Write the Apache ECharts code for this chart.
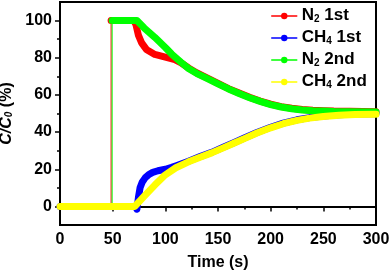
<!DOCTYPE html>
<html><head><meta charset="utf-8">
<script src="https://cdn.jsdelivr.net/npm/echarts@6/dist/echarts.min.js"></script>
<style>html,body{margin:0;padding:0;background:#fff}#c{width:392px;height:275px}</style>
</head><body><div id="c"></div>
<script>
// x tick labels and y tick labels
const xTickLabels = [0, 50, 100, 150, 200, 250, 300];
const yTickLabels = [0, 20, 40, 60, 80, 100];
const yMinorTicks = [10, 30, 50, 70, 90];

// N2 1st (red)
const n2FirstTime  = [48.5, 70, 72, 74.5, 77.5, 82, 90, 100, 109, 115, 122, 130, 140, 150, 160, 170, 180, 190, 200, 210, 220, 230, 240, 250, 260, 275, 300];
const n2FirstValue = [100, 100, 98, 92, 88, 84.5, 81.8, 80.3, 79, 77.3, 74.5, 71.8, 69, 66.2, 63.4, 61, 58.7, 56.7, 55, 53.7, 52.8, 52.1, 51.7, 51.5, 51.3, 51.2, 51];
// CH4 1st (blue)
const ch4FirstTime  = [0, 72, 73, 74.5, 76, 78, 81, 84, 88, 93, 100, 106, 111, 122, 133, 144, 155, 165, 175, 187, 200, 212, 225, 237, 250, 265, 280, 300];
const ch4FirstValue = [0, 0, -1.5, 5, 10, 13, 15.5, 17, 18.3, 19.2, 20, 21, 22, 24.3, 26.8, 29.1, 31.8, 34.3, 36.8, 39.8, 42.6, 44.8, 46.6, 47.8, 48.7, 49.3, 49.7, 49.9];
// N2 2nd (green)
const n2SecondTime  = [49.5, 73, 80, 90, 100, 106, 115, 122, 130, 140, 150, 160, 170, 180, 190, 200, 210, 220, 230, 240, 250, 260, 275, 300];
const n2SecondValue = [100, 100, 96, 91, 85.5, 82, 77.5, 74.2, 71.5, 68.8, 66, 63.2, 60.8, 58.5, 56.5, 54.8, 53.5, 52.6, 51.9, 51.5, 51.3, 51.1, 51, 50.8];
// CH4 2nd (yellow)
const ch4SecondTime  = [0, 71, 80, 90, 100, 110, 122, 133, 144, 155, 165, 175, 187, 200, 212, 225, 237, 250, 265, 280, 300];
const ch4SecondValue = [0, 0, 5.5, 11.5, 17, 20.8, 24, 26.5, 28.8, 31.5, 34, 36.5, 39.5, 42.3, 44.5, 46.3, 47.5, 48.4, 49, 49.4, 49.6];
// step-in jumps (thin vertical traces)
const n2FirstJumpTime = [48.5, 48.5];
const n2SecondJumpTime = [49.5, 49.5];
const jumpValue = [0, 100];

const pairs = (t, v) => t.map((x, i) => [x, v[i]]);
const FONT = 'Liberation Sans, Arial, sans-serif';

const legendLabels = {
  'N2 1st': '{n|N}{s|2}{n| 1st}',
  'CH4 1st': '{n|CH}{s|4}{n| 1st}',
  'N2 2nd': '{n|N}{s|2}{n| 2nd}',
  'CH4 2nd': '{n|CH}{s|4}{n| 2nd}'
};

function mainSeries(name, color, data) {
  return {
    name, type: 'line', data, color,
    symbol: 'circle', symbolSize: 7, showSymbol: false,
    lineStyle: { width: 7, color, cap: 'round', join: 'round' },
    silent: true, animation: false
  };
}
function jumpSeries(color, t) {
  return {
    type: 'line', data: pairs(t, jumpValue), symbol: 'none',
    lineStyle: { width: 1, color }, silent: true, animation: false
  };
}

const chart = echarts.init(document.getElementById('c'), null, { renderer: 'canvas' });
chart.setOption({
  animation: false,
  grid: { left: 60, right: 16, top: 2, bottom: 50, outerBoundsMode: 'none', containLabel: false,
    show: true, borderColor: '#000', borderWidth: 2 },
  legend: {
    data: ['N2 1st', 'CH4 1st', 'N2 2nd', 'CH4 2nd'],
    orient: 'vertical', left: 271, top: 7, padding: 0,
    itemWidth: 25, itemHeight: 8, itemGap: 5,
    lineStyle: { width: 1.5 },
    formatter: n => legendLabels[n],
    textStyle: {
      fontFamily: FONT, color: '#000',
      rich: {
        n: { fontFamily: FONT, fontSize: 17, fontWeight: 'bold', color: '#000', lineHeight: 16, verticalAlign: 'bottom' },
        s: { fontFamily: FONT, fontSize: 10, fontWeight: 'bold', color: '#000', lineHeight: 10, verticalAlign: 'bottom' }
      }
    }
  },
  xAxis: [{
    type: 'value', min: 0, max: 300, interval: 50,
    name: 'Time (s)', nameLocation: 'middle', nameGap: 30,
    nameTextStyle: { fontFamily: FONT, fontSize: 16, fontWeight: 'bold', color: '#000' },
    axisLine: { lineStyle: { color: '#000', width: 2 } },
    axisTick: { length: 5, lineStyle: { color: '#000', width: 1.5 } },
    minorTick: { show: true, splitNumber: 2, length: 3, lineStyle: { color: '#000', width: 1.5 } },
    splitLine: { show: false },
    axisLabel: { fontFamily: FONT, fontSize: 16, fontWeight: 'bold', color: '#000', margin: 7,
      customValues: xTickLabels }
  }],
  yAxis: [{
    type: 'value', min: -10, max: 110, interval: 10,
    name: '{i|C/C}{is|0}{n| (%)}', nameLocation: 'middle', nameGap: 43, nameRotate: 90,
    nameTextStyle: {
      rich: {
        i: { fontFamily: FONT, fontSize: 16, fontWeight: 'bold', fontStyle: 'italic', color: '#000', lineHeight: 16, verticalAlign: 'bottom' },
        is: { fontFamily: FONT, fontSize: 10, fontWeight: 'bold', fontStyle: 'italic', color: '#000', lineHeight: 10, verticalAlign: 'bottom' },
        n: { fontFamily: FONT, fontSize: 16, fontWeight: 'bold', color: '#000', lineHeight: 16, verticalAlign: 'bottom' }
      }
    },
    axisLine: { lineStyle: { color: '#000', width: 2 } },
    axisTick: { length: 5, customValues: yTickLabels, lineStyle: { color: '#000', width: 1.5 } },
    splitLine: { show: false },
    axisLabel: { fontFamily: FONT, fontSize: 16, fontWeight: 'bold', color: '#000', margin: 8,
      customValues: yTickLabels }
  }, {
    type: 'value', min: -10, max: 110, interval: 10, position: 'left',
    axisLine: { show: false },
    axisTick: { length: 3, customValues: yMinorTicks, lineStyle: { color: '#000', width: 1.5 } },
    axisLabel: { show: false }, splitLine: { show: false }
  }],
  series: [
    jumpSeries('#ff0000', n2FirstJumpTime),
    jumpSeries('#00ff00', n2SecondJumpTime),
    mainSeries('N2 1st', '#ff0000', pairs(n2FirstTime, n2FirstValue)),
    mainSeries('CH4 1st', '#0000ff', pairs(ch4FirstTime, ch4FirstValue)),
    mainSeries('N2 2nd', '#00ff00', pairs(n2SecondTime, n2SecondValue)),
    mainSeries('CH4 2nd', '#ffff00', pairs(ch4SecondTime, ch4SecondValue))
  ]
});
</script></body></html>
